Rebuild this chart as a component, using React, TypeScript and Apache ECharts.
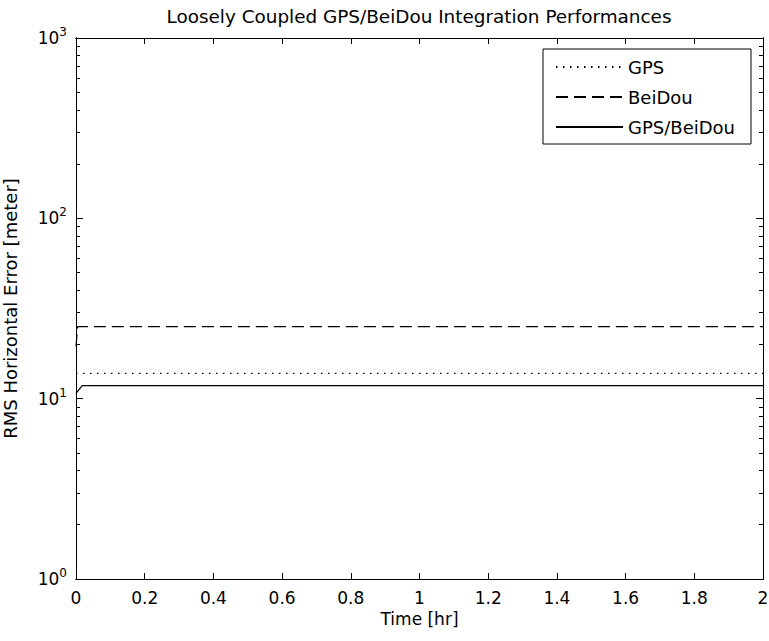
import React, { useEffect, useRef } from "react";
import * as echarts from "echarts";

const titleText = "Loosely Coupled GPS/BeiDou Integration Performances";
const xName = "Time [hr]";
const yName = "RMS Horizontal Error [meter]";
const seriesNames = ["GPS", "BeiDou", "GPS/BeiDou"];

const gpsTime = [0, 2];
const gpsRms = [13.8, 13.8];
const beidouTime = [0, 0.005, 2];
const beidouRms = [19.5, 25.1, 25.1];
const combinedTime = [0, 0.018, 2];
const combinedRms = [10.7, 11.8, 11.8];

const xTicks = [0, 0.2, 0.4, 0.6, 0.8, 1, 1.2, 1.4, 1.6, 1.8, 2];
const yMajor = [1, 10, 100, 1000];
const yMinor = [2, 3, 4, 5, 6, 7, 8, 9, 20, 30, 40, 50, 60, 70, 80, 90, 200, 300, 400, 500, 600, 700, 800, 900];

const FONT = "DejaVu Sans";
const W = 769;
const H = 641;
const G = { left: 76, right: 6, top: 38, bottom: 62 };

const pairs = (xs: number[], ys: number[]) => xs.map((x, i) => [x, ys[i]]);

export default function App() {
  const ref = useRef<HTMLDivElement>(null);
  useEffect(() => {
    if (!ref.current) return;
    const chart = echarts.init(ref.current, null, { renderer: "svg" });
    const axisLine = { show: true, onZero: false, lineStyle: { color: "#000", width: 1 } };
    const xMin = xTicks[0];
    const xMax = xTicks[xTicks.length - 1];
    const yMin = yMajor[0];
    const yMax = yMajor[yMajor.length - 1];
    const tickStyle = { color: "#000", width: 1 };
    const xBase = {
      type: "value" as const,
      min: xMin,
      max: xMax,
      interval: 0.2,
      splitLine: { show: false },
      axisTick: { show: false },
    };
    const yBase = {
      type: "log" as const,
      logBase: 10,
      min: yMin,
      max: yMax,
      splitLine: { show: false },
      axisTick: { show: false },
    };
    const gridBase = { containLabel: false, outerBoundsMode: "none" };
    // thin helper grids sitting on the plot edges; their outward ticks point into the plot
    const grids = [
      { ...gridBase, left: G.left, right: G.right, top: G.top, bottom: G.bottom },
      { ...gridBase, left: G.left, right: G.right, top: H - G.bottom, bottom: G.bottom - 1 },
      { ...gridBase, left: G.left, right: G.right, top: G.top - 1, bottom: H - G.top },
      { ...gridBase, left: G.left - 1, right: W - G.left, top: G.top, bottom: G.bottom },
      { ...gridBase, left: W - G.right, right: G.right - 1, top: G.top, bottom: G.bottom },
    ];
    const hiddenX = (gridIndex: number) => ({ gridIndex, type: "value" as const, show: false, min: 0, max: 1 });
    const hiddenY = (gridIndex: number) => ({ gridIndex, type: "value" as const, show: false, min: 0, max: 1 });
    const xTickAxis = (gridIndex: number, position: "top" | "bottom") => ({
      ...xBase,
      gridIndex,
      position,
      axisLine,
      axisTick: { show: true, inside: false, length: 6, lineStyle: tickStyle },
      axisLabel: { show: false },
    });
    const yTickAxis = (gridIndex: number, position: "left" | "right", minor: boolean) => ({
      ...yBase,
      gridIndex,
      position,
      axisLine,
      axisTick: minor
        ? { show: true, inside: false, length: 4, customValues: yMinor, lineStyle: tickStyle }
        : { show: true, inside: false, length: 7, lineStyle: tickStyle },
      axisLabel: { show: false },
    });
    chart.setOption({
      animation: false,
      backgroundColor: "#fff",
      title: {
        text: titleText,
        left: 414,
        top: 2,
        textAlign: "center",
        textStyle: { fontFamily: FONT, fontSize: 18.4, fontWeight: "normal", color: "#000" },
      },
      legend: {
        orient: "vertical",
        left: 543,
        top: 49,
        padding: [9, 16, 8, 12],
        itemWidth: 67,
        itemHeight: 14,
        itemGap: 12,
        borderColor: "#000",
        borderWidth: 1,
        backgroundColor: "#fff",
        data: seriesNames,
        itemStyle: { opacity: 0, borderWidth: 0 },
        textStyle: { fontFamily: FONT, fontSize: 18, color: "#000", lineHeight: 17 },
      },
      grid: grids,
      xAxis: [
        {
          ...xBase,
          gridIndex: 0,
          position: "bottom",
          name: xName,
          nameLocation: "middle",
          nameGap: 30,
          nameTextStyle: { fontFamily: FONT, fontSize: 17, color: "#000" },
          axisLine,
          axisLabel: {
            show: true,
            margin: 10,
            fontFamily: FONT,
            fontSize: 17,
            color: "#000",
            formatter: (v: number) => {
              const t = xTicks.find((k) => Math.abs(k - v) < 1e-9);
              return t === undefined ? "" : String(t);
            },
          },
        },
        {
          ...xBase,
          gridIndex: 0,
          position: "top",
          axisLine,
          axisLabel: { show: false },
        },
        xTickAxis(1, "top"),
        xTickAxis(2, "bottom"),
        hiddenX(3),
        hiddenX(4),
      ],
      yAxis: [
        {
          ...yBase,
          gridIndex: 0,
          position: "left",
          name: yName,
          nameLocation: "middle",
          nameGap: 57,
          nameRotate: 90,
          nameTextStyle: { fontFamily: FONT, fontSize: 18, color: "#000" },
          axisLine,
          axisLabel: {
            show: true,
            margin: 9,
            formatter: (v: number) => `{b|10}{s|${Math.round(Math.log10(v))}}`,
            rich: {
              b: { fontFamily: FONT, fontSize: 17, color: "#000" },
              s: { fontFamily: FONT, fontSize: 12, color: "#000", padding: [0, 0, 12, 0] },
            },
          },
        },
        {
          ...yBase,
          gridIndex: 0,
          position: "right",
          axisLine,
          axisLabel: { show: false },
        },
        hiddenY(1),
        hiddenY(2),
        yTickAxis(3, "right", false),
        yTickAxis(3, "right", true),
        yTickAxis(4, "left", false),
        yTickAxis(4, "left", true),
      ],
      series: [
        {
          name: seriesNames[0],
          type: "line",
          xAxisIndex: 0,
          yAxisIndex: 0,
          data: pairs(gpsTime, gpsRms),
          symbol: "none",
          lineStyle: { color: "#000", width: 1.2, type: [1.5, 5.5] },
          itemStyle: { color: "#000" },
        },
        {
          name: seriesNames[1],
          type: "line",
          xAxisIndex: 0,
          yAxisIndex: 0,
          data: pairs(beidouTime, beidouRms),
          symbol: "none",
          lineStyle: { color: "#000", width: 1.2, type: [12, 6] },
          itemStyle: { color: "#000" },
        },
        {
          name: seriesNames[2],
          type: "line",
          xAxisIndex: 0,
          yAxisIndex: 0,
          data: pairs(combinedTime, combinedRms),
          symbol: "none",
          lineStyle: { color: "#000", width: 1.2, type: "solid" },
          itemStyle: { color: "#000" },
        },
      ],
    });

    return () => chart.dispose();
  }, []);
  return <div ref={ref} style={{ width: W, height: H, position: "absolute", left: 0, top: 0 }} />;
}
